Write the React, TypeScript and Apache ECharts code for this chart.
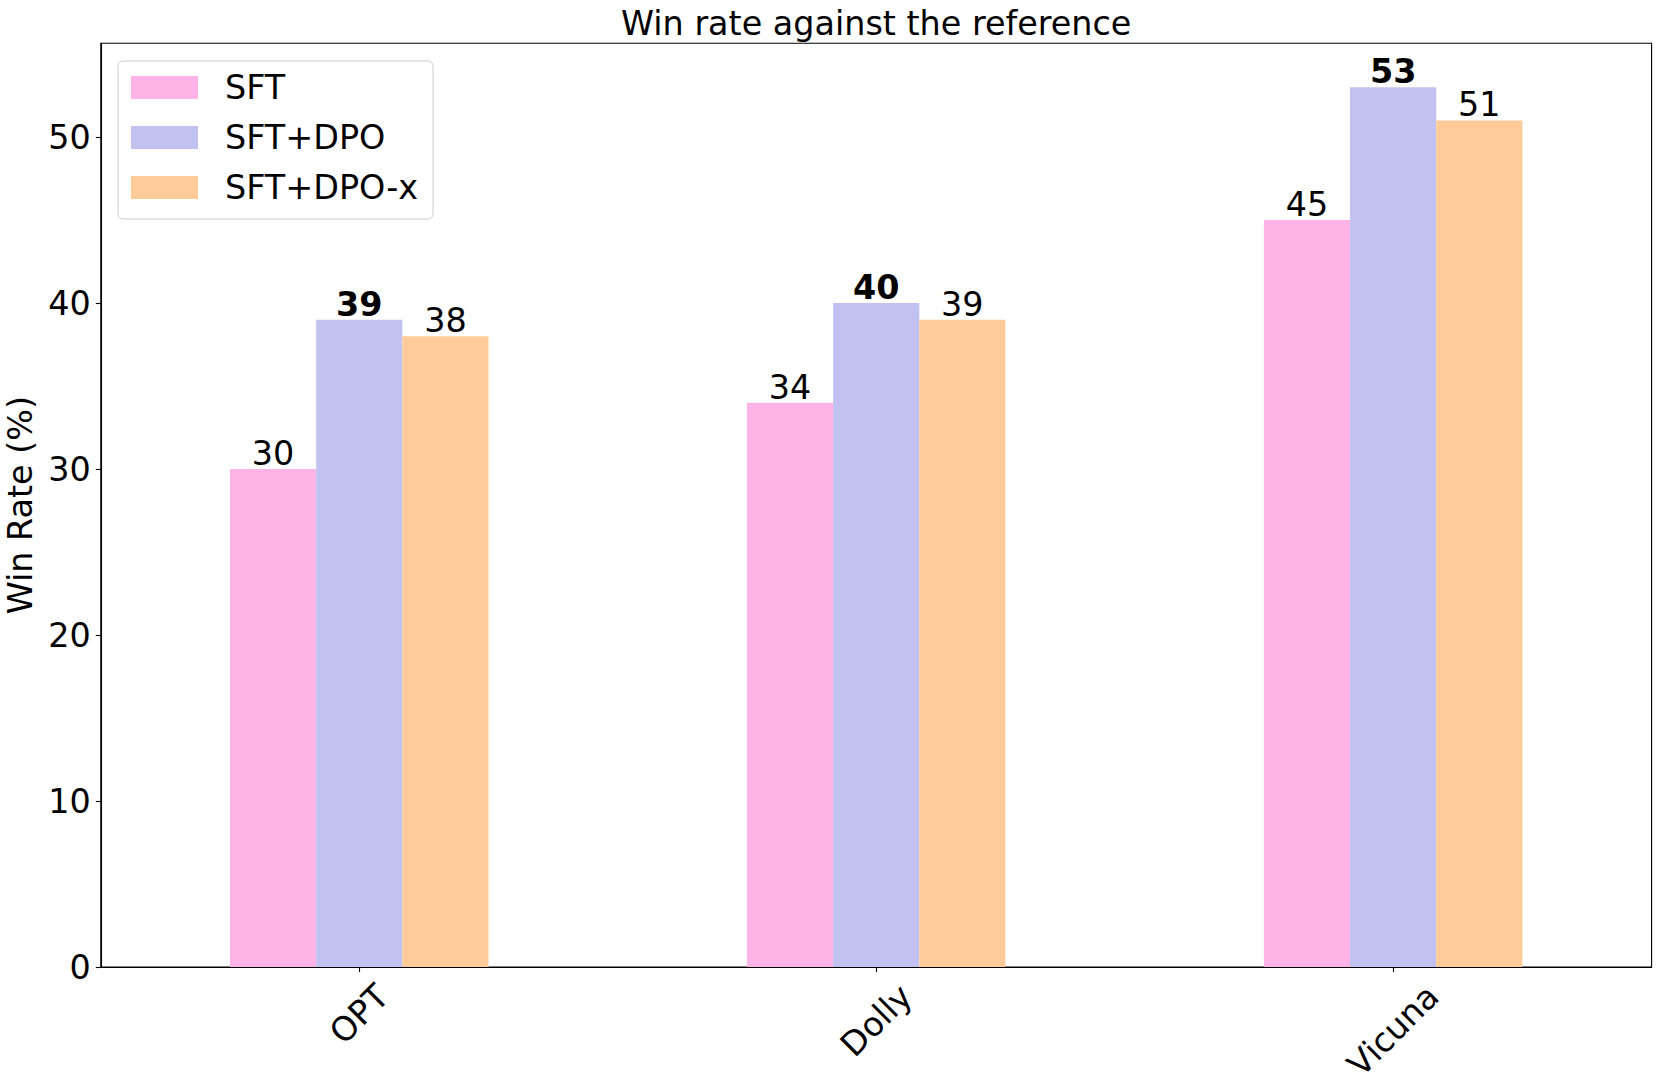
import React, { useEffect, useRef } from 'react';
import * as echarts from 'echarts';

const categories = ['OPT', 'Dolly', 'Vicuna'];
const seriesNames = ['SFT', 'SFT+DPO', 'SFT+DPO-x'];
const sftValues = [30, 34, 45];
const sftDpoValues = [39, 40, 53];
const sftDpoXValues = [38, 39, 51];
const yTicks = [0, 10, 20, 30, 40, 50];
const yMax = 55.65;
const colors = ['#FFB3E6', '#C2C2F0', '#FFCC99'];

const FONT = 'DejaVu Sans';
const FS = 33.4;

export default function App() {
  const ref = useRef<HTMLDivElement>(null);
  useEffect(() => {
    document.body.style.margin = '0';
    const chart = echarts.init(ref.current!, null, { renderer: 'svg' });
    const allSeries = [sftValues, sftDpoValues, sftDpoXValues];
    const series = allSeries.map((vals, si) => ({
      name: seriesNames[si],
      type: 'bar',
      data: vals.map((v, ci) => {
        const groupMax = Math.max(...allSeries.map((s) => s[ci]));
        return { value: v, label: { fontWeight: v === groupMax ? 'bold' : 'normal' } };
      }),
      itemStyle: { color: colors[si] },
      barGap: '0%',
      barCategoryGap: '50%',
      label: {
        show: true,
        position: 'top',
        distance: -1,
        color: '#000',
        fontFamily: FONT,
        fontSize: FS,
      },
    }));
    const gridLeft = 100.8;
    const gridTop = 43.3;
    const gridWidth = 1550.8;
    const gridHeight = 923.7;
    chart.setOption({
      animation: false,
      backgroundColor: '#fff',
      title: {
        text: 'Win rate against the reference',
        left: gridLeft + gridWidth / 2,
        textAlign: 'center',
        top: 7,
        padding: 0,
        textStyle: { fontFamily: FONT, fontSize: FS, fontWeight: 'normal', color: '#000' },
      },
      legend: {
        orient: 'vertical',
        left: 118,
        top: 61,
        padding: [10, 15, 15, 13],
        itemWidth: 67,
        itemHeight: 23,
        itemGap: 17,
        icon: 'rect',
        backgroundColor: 'rgba(255,255,255,0.8)',
        borderColor: '#cccccc',
        borderWidth: 1,
        borderRadius: 5,
        textStyle: {
          fontFamily: FONT,
          fontSize: FS,
          color: '#000',
          padding: [0, 0, 0, 22],
        },
        data: seriesNames,
      },
      grid: {
        left: gridLeft,
        top: gridTop,
        width: gridWidth,
        height: gridHeight,
        show: true,
        borderColor: '#000',
        borderWidth: 1.1,
        containLabel: false,
        outerBoundsMode: 'none',
      },
      xAxis: {
        type: 'category',
        data: categories,
        axisLine: { show: true, lineStyle: { color: '#000', width: 1.1 } },
        axisTick: { show: true, alignWithLabel: true, length: 5, lineStyle: { color: '#000', width: 1.1 } },
        axisLabel: { show: false },
        splitLine: { show: false },
      },
      yAxis: {
        type: 'value',
        min: 0,
        max: yMax,
        interval: 10,
        name: 'Win Rate (%)',
        nameLocation: 'middle',
        nameGap: 60,
        nameTextStyle: { fontFamily: FONT, fontSize: FS, color: '#000' },
        axisLine: { show: true, lineStyle: { color: '#000', width: 1.1 } },
        axisTick: { show: true, length: 5, customValues: yTicks, lineStyle: { color: '#000', width: 1.1 } },
        axisLabel: {
          customValues: yTicks,
          margin: 10,
          fontFamily: FONT,
          fontSize: FS,
          color: '#000',
        },
        splitLine: { show: false },
      },
      series,
    });

    const canvas = document.createElement('canvas');
    const ctx = canvas.getContext('2d')!;
    ctx.font = `${FS}px "${FONT}"`;
    const axisY = chart.convertToPixel({ yAxisIndex: 0 }, 0) as number;
    const boxH = FS * 1.164;
    const labels = categories.map((cat) => {
      const x = chart.convertToPixel({ xAxisIndex: 0 }, cat) as number;
      const w = ctx.measureText(cat).width;
      const half = (w + boxH) * Math.SQRT1_2 / 2;
      return {
        type: 'text',
        x,
        y: axisY + 9.8 + half,
        rotation: Math.PI / 4,
        style: {
          text: cat,
          fontFamily: FONT,
          fontSize: FS,
          fill: '#000',
          align: 'center',
          verticalAlign: 'middle',
        },
      };
    });
    chart.setOption({ graphic: labels });

    return () => chart.dispose();
  }, []);
  return <div ref={ref} style={{ width: 1660, height: 1090 }} />;
}
